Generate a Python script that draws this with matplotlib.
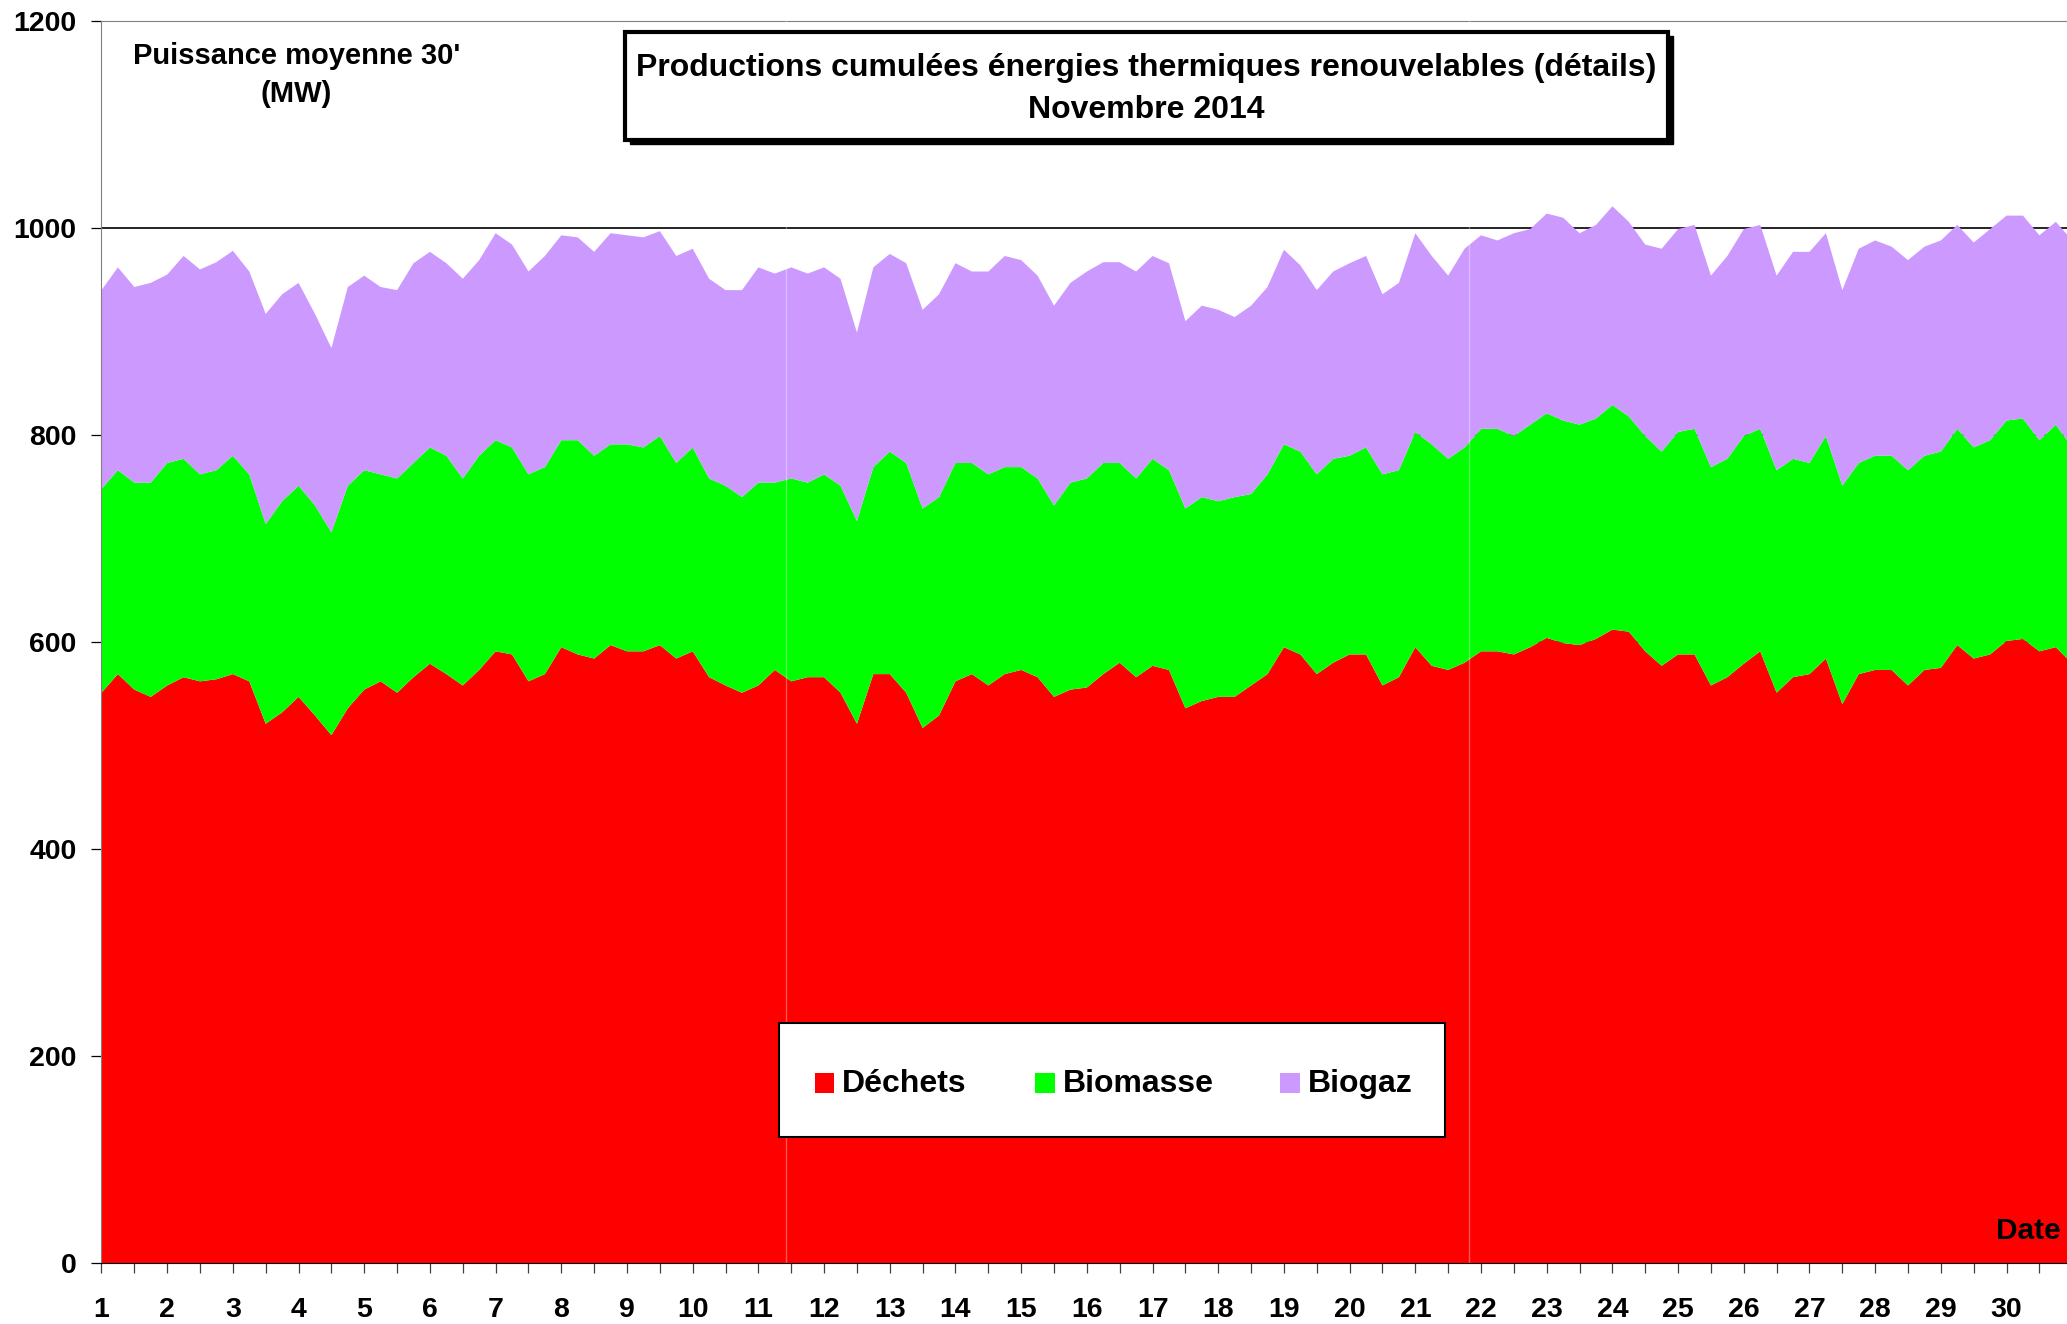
import numpy as np
import matplotlib
matplotlib.use('Agg')
import matplotlib.pyplot as plt
from matplotlib.patches import Rectangle

plt.rcParams['font.family'] = ['Liberation Sans', 'DejaVu Sans']
plt.rcParams['font.weight'] = 'bold'

# valeurs relevees toutes les 6 h (1er nov 0h -> 1er dec 0h), MW, niveaux cumules
niveau_dechets = [551, 569, 554, 547, 558, 566, 562, 564, 569, 562, 521, 532, 547, 529, 510, 536, 554, 562, 551, 566, 579,
                  569, 558, 573, 591, 588, 562, 569, 595, 588, 584, 597, 591, 591, 597, 584, 591, 566, 558, 551, 558,
                  573, 562, 566, 566, 551, 521, 569, 569, 551, 517, 529, 562, 569, 558, 569, 573, 566, 547, 554, 556,
                  569, 580, 566, 577, 573, 536, 543, 547, 547, 558, 569, 595, 588, 569, 580, 588, 588, 558, 566, 595,
                  577, 573, 580, 591, 591, 588, 595, 604, 599, 597, 603, 612, 610, 591, 577, 588, 588, 558, 566, 579,
                  591, 551, 566, 569, 584, 540, 569, 573, 573, 558, 573, 575, 597, 584, 588, 601, 603, 591, 595, 579]
niveau_biomasse = [748, 766, 754, 754, 773, 777, 762, 766, 780, 762, 714, 736, 751, 732, 706, 751, 766, 762, 758, 773, 788,
                   780, 758, 780, 795, 788, 762, 769, 795, 795, 780, 791, 791, 788, 799, 773, 788, 758, 751, 740, 754,
                   754, 758, 754, 762, 751, 717, 769, 784, 773, 729, 740, 773, 773, 762, 769, 769, 758, 732, 754, 758,
                   773, 773, 758, 777, 766, 729, 740, 736, 740, 743, 762, 791, 784, 762, 777, 780, 788, 762, 766, 803,
                   791, 777, 788, 806, 806, 799, 810, 821, 814, 810, 816, 829, 818, 799, 784, 803, 806, 769, 777, 799,
                   806, 766, 777, 773, 799, 751, 773, 780, 780, 766, 780, 784, 806, 788, 795, 814, 816, 795, 810, 788]
niveau_total = [940, 962, 943, 947, 955, 973, 960, 967, 978, 958, 917, 936, 947, 917, 884, 943, 954, 943, 940, 966, 977,
                966, 951, 969, 995, 984, 958, 973, 993, 991, 977, 995, 993, 991, 997, 973, 980, 951, 940, 940, 962,
                956, 962, 956, 962, 951, 899, 962, 975, 966, 921, 936, 966, 958, 958, 973, 969, 954, 925, 947, 958,
                967, 967, 958, 973, 966, 910, 925, 921, 914, 925, 943, 979, 964, 940, 958, 966, 973, 936, 947, 995,
                973, 954, 980, 993, 988, 995, 999, 1014, 1010, 995, 1003, 1021, 1006, 984, 980, 999, 1003, 954, 973, 999,
                1003, 954, 977, 977, 995, 940, 980, 988, 982, 969, 982, 988, 1003, 986, 999, 1012, 1012, 993, 1006, 988]
jours = np.arange(len(niveau_total)) / 4.0 + 1
lacunes = [11.42, 21.81]

dechets = np.array(niveau_dechets)
biomasse = np.array(niveau_biomasse) - dechets
biogaz = np.array(niveau_total) - np.array(niveau_biomasse)

noms = ['Déchets', 'Biomasse', 'Biogaz']
couleurs = ['#FF0000', '#00FF00', '#CC99FF']

fig = plt.figure(figsize=(20.67, 13.24), dpi=100)
ax = fig.add_axes([0.0491, 0.0461, 0.9509, 0.938])

ax.stackplot(jours, dechets, biomasse, biogaz, colors=couleurs, linewidth=0, zorder=2)
for x in lacunes:
    ax.axvline(x, color='white', alpha=0.35, lw=1, zorder=3)

ax.set_xlim(1, 30.92)
ax.set_ylim(0, 1200)
ax.set_yticks(range(0, 1201, 200))
ax.set_xticks(range(1, 31))
ax.set_xticks(np.arange(1.5, 31, 1), minor=True)
ax.yaxis.grid(True, color='black', lw=1.2)
ax.set_axisbelow(True)

ax.tick_params(axis='y', length=7, width=0.9, pad=11, labelsize=20.5, colors='black')
ax.tick_params(axis='x', which='both', length=7.5, width=0.9, color='#404040')
ax.tick_params(axis='x', which='major', pad=17, labelsize=20.5)
for lab in ax.get_xticklabels() + ax.get_yticklabels():
    lab.set_fontweight('bold')

ax.spines['right'].set_visible(False)
ax.spines['top'].set_color('#808080')
ax.spines['left'].set_color('#808080')
ax.spines['bottom'].set_color('black')
ax.spines['bottom'].set_zorder(4)

ax.text(0.997, 0.026, 'Date', transform=ax.transAxes, ha='right', va='center',
        fontsize=21.5, fontweight='bold', zorder=5)

# unite
fig.text(0.1435, 0.958, "Puissance moyenne 30'", ha='center', va='center', fontsize=21, fontweight='bold')
fig.text(0.1435, 0.929, "(MW)", ha='center', va='center', fontsize=21, fontweight='bold')

# cadre du titre avec ombre
fig.patches.append(Rectangle((0.3048, 0.8912), 0.5045, 0.0815, transform=fig.transFigure,
                             facecolor='black', edgecolor='black', zorder=5))
fig.patches.append(Rectangle((0.3023, 0.8945), 0.5045, 0.0815, transform=fig.transFigure,
                             facecolor='white', edgecolor='black', lw=3, zorder=6))
fig.text(0.5545, 0.949, 'Productions cumulées énergies thermiques renouvelables (détails)',
         ha='center', va='center', fontsize=23, fontweight='bold', zorder=7)
fig.text(0.5545, 0.917, 'Novembre 2014', ha='center', va='center', fontsize=23,
         fontweight='bold', zorder=7)

# legende
fig.patches.append(Rectangle((0.3769, 0.1414), 0.3221, 0.0857, transform=fig.transFigure,
                             facecolor='white', edgecolor='black', lw=1.5, zorder=5))
leg_x = [0.3941, 0.5006, 0.6193]
for x, nom, c in zip(leg_x, noms, couleurs):
    fig.patches.append(Rectangle((x, 0.1745), 0.0096, 0.0150, transform=fig.transFigure,
                                 facecolor=c, edgecolor='none', zorder=6))
    fig.text(x + 0.0134, 0.1815, nom, ha='left', va='center', fontsize=23,
             fontweight='bold', zorder=7)

fig.savefig('out.png', dpi=100)
